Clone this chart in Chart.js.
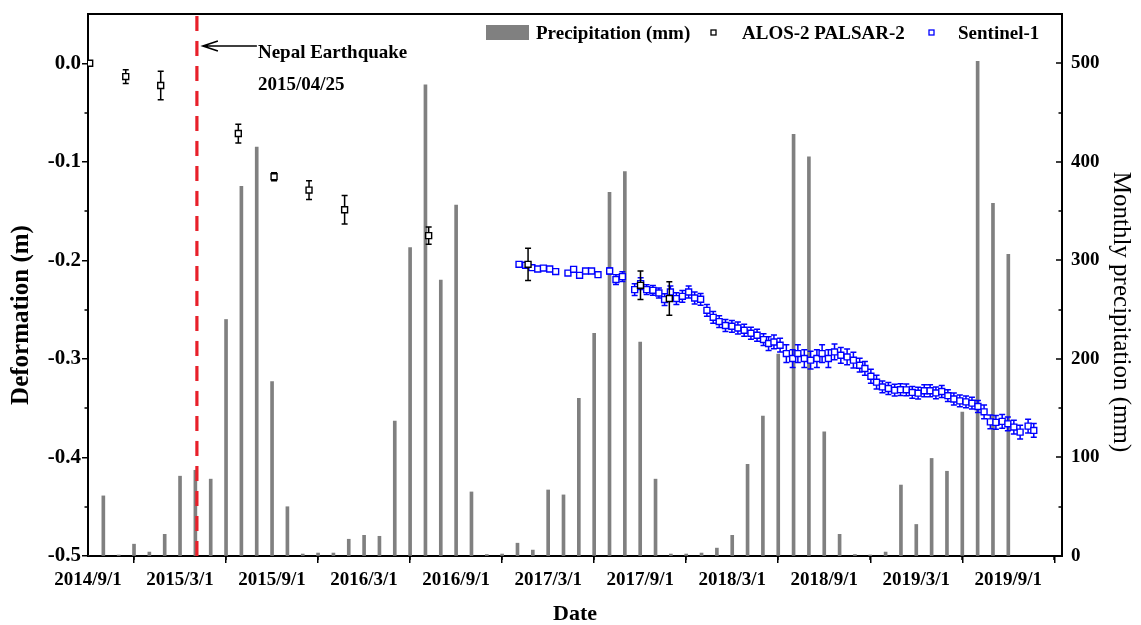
<!DOCTYPE html>
<html><head><meta charset="utf-8">
<script src="https://cdn.jsdelivr.net/npm/chart.js@4.4.1/dist/chart.umd.min.js"></script>
<style>html,body{margin:0;padding:0;background:#fff;overflow:hidden}#wrap{width:1141px;height:625px;position:relative}</style>
</head><body><div id="wrap"><canvas id="c" width="1141" height="625"></canvas></div>
<script>
// x values are months since 2014/9/1
const xTickMonths = [0, 6, 12, 18, 24, 30, 36, 42, 48, 54, 60];
const xTickLabels = ['2014/9/1','2015/3/1','2015/9/1','2016/3/1','2016/9/1','2017/3/1','2017/9/1','2018/3/1','2018/9/1','2019/3/1','2019/9/1'];
const leftTicks = [0.0, -0.1, -0.2, -0.3, -0.4, -0.5];
const rightTicks = [0, 100, 200, 300, 400, 500];

const precipMonths = [0,1,2,3,4,5,6,7,8,9,10,11,12,13,14,15,16,17,18,19,20,21,22,23,24,25,26,27,28,29,30,31,32,33,34,35,36,37,38,39,40,41,42,43,44,45,46,47,48,49,50,51,52,53,54,55,56,57,58,59,60];
const precipValues = [0,61,1,12,4,22,81,87,78,240,375,415,177,50,2,3,3,17,21,20,137,313,478,280,356,65,1.5,2,13,6,67,62,160,226,369,390,217,78,2,2,3,8,21,93,142,205,428,405,126,22,1.5,1,4,72,32,99,86,146,502,358,306];

const alosMonths = [0.11, 2.46, 4.74, 9.80, 12.13, 14.41, 16.73, 22.21, 28.69, 36.02, 37.90];
const alosDef = [0.0, -0.0135, -0.0226, -0.0713, -0.1151, -0.1287, -0.1486, -0.1749, -0.2040, -0.2253, -0.2388];
const alosErr = [0, 0.007, 0.0144, 0.0095, 0.004, 0.0095, 0.0145, 0.0088, 0.0164, 0.0144, 0.017];

const s1Months = [28.10,28.53,28.94,29.32,29.69,30.10,30.49,31.29,31.66,32.05,32.44,32.83,33.25,34.01,34.42,34.84,35.64,36.03,36.42,36.83,37.22,37.59,37.97,38.36,38.75,39.16,39.55,39.94,40.35,40.76,41.15,41.56,41.98,42.37,42.78,43.22,43.62,44.04,44.37,44.72,45.12,45.53,45.94,46.28,46.70,47.11,47.52,47.86,48.27,48.67,49.08,49.49,49.90,50.31,50.65,51.04,51.41,51.79,52.18,52.59,52.97,53.35,53.74,54.12,54.52,54.90,55.28,55.66,56.06,56.45,56.84,57.24,57.63,58.02,58.42,58.83,59.19,59.60,59.97,60.36,60.77,61.29,61.66];
const s1Def = [-0.2040,-0.2050,-0.2074,-0.2088,-0.2078,-0.2088,-0.2114,-0.2129,-0.2091,-0.2152,-0.2108,-0.2108,-0.2145,-0.2108,-0.2195,-0.2165,-0.2297,-0.2236,-0.2297,-0.2304,-0.2331,-0.2398,-0.2321,-0.2388,-0.2365,-0.2321,-0.2382,-0.2395,-0.2507,-0.2578,-0.2621,-0.2661,-0.2669,-0.2686,-0.2709,-0.2740,-0.2760,-0.2804,-0.2844,-0.2828,-0.2861,-0.2946,-0.2996,-0.2946,-0.2996,-0.3013,-0.2996,-0.2946,-0.2996,-0.2929,-0.2963,-0.2980,-0.3013,-0.3064,-0.3097,-0.3176,-0.3236,-0.3284,-0.3300,-0.3317,-0.3312,-0.3314,-0.3340,-0.3348,-0.3323,-0.3323,-0.3345,-0.3331,-0.3373,-0.3407,-0.3426,-0.3436,-0.3449,-0.3483,-0.3537,-0.3639,-0.3644,-0.3634,-0.3659,-0.3692,-0.3743,-0.3682,-0.3726];
const s1Err = [0.002,0.002,0.002,0.002,0.002,0.002,0.002,0.002,0.002,0.002,0.002,0.002,0.002,0.003,0.005,0.005,0.006,0.006,0.005,0.005,0.005,0.006,0.006,0.006,0.006,0.006,0.006,0.006,0.006,0.006,0.006,0.006,0.006,0.006,0.006,0.006,0.006,0.006,0.007,0.007,0.007,0.009,0.009,0.009,0.009,0.009,0.009,0.009,0.009,0.008,0.008,0.008,0.008,0.007,0.007,0.007,0.007,0.006,0.006,0.006,0.006,0.006,0.006,0.006,0.006,0.006,0.006,0.006,0.006,0.006,0.006,0.006,0.006,0.006,0.007,0.007,0.007,0.007,0.007,0.007,0.007,0.007,0.007];

const quakeMonth = 7.1;
const FONT = '"Liberation Serif", "Times New Roman", serif';

const decor = {
  id: 'decor',
  beforeDatasetDraw(chart, args) {
    const ds = chart.data.datasets[args.index];
    if (!ds.errorBars) return;
    const ctx = chart.ctx, xs = chart.scales.x, ys = chart.scales.y;
    ctx.save();
    ctx.strokeStyle = ds.borderColor; ctx.lineWidth = 1.5;
    ds.data.forEach((p, i) => {
      const e = ds.errorBars[i]; if (!e) return;
      const px = xs.getPixelForValue(p.x);
      const y1 = ys.getPixelForValue(p.y + e), y2 = ys.getPixelForValue(p.y - e);
      ctx.beginPath();
      ctx.moveTo(px, y1); ctx.lineTo(px, y2);
      ctx.moveTo(px - 3, y1); ctx.lineTo(px + 3, y1);
      ctx.moveTo(px - 3, y2); ctx.lineTo(px + 3, y2);
      ctx.stroke();
    });
    ctx.restore();
  },
  afterDatasetsDraw(chart) {
    const ctx = chart.ctx, xs = chart.scales.x, a = chart.chartArea;
    const qx = xs.getPixelForValue(quakeMonth);
    ctx.save();
    ctx.strokeStyle = '#e8202a'; ctx.lineWidth = 3.2; ctx.setLineDash([15, 10]);
    ctx.beginPath(); ctx.moveTo(qx, a.bottom); ctx.lineTo(qx, a.top); ctx.stroke();
    ctx.setLineDash([]);
    ctx.strokeStyle = '#000'; ctx.lineWidth = 1.6;
    const ay = 46, ax0 = qx + 6, ax1 = qx + 60;
    ctx.beginPath(); ctx.moveTo(ax1, ay); ctx.lineTo(ax0, ay);
    ctx.moveTo(ax0 + 15, ay - 5); ctx.lineTo(ax0, ay); ctx.lineTo(ax0 + 15, ay + 5); ctx.stroke();
    ctx.fillStyle = '#000'; ctx.font = 'bold 19px ' + FONT; ctx.textAlign = 'left'; ctx.textBaseline = 'alphabetic';
    ctx.fillText('Nepal Earthquake', ax1 + 1, 58);
    ctx.fillText('2015/04/25', ax1 + 1, 90);
    ctx.restore();
  },
  afterDraw(chart) {
    const ctx = chart.ctx, a = chart.chartArea, xs = chart.scales.x, ys = chart.scales.y, y2 = chart.scales.y2;
    ctx.save();
    ctx.strokeStyle = '#000'; ctx.lineWidth = 1.5;
    ctx.beginPath();
    for (let m = 3; m <= 63; m += 6) { const px = Math.round(xs.getPixelForValue(m)); ctx.moveTo(px, a.bottom); ctx.lineTo(px, a.bottom + 4); }
    for (let v = -0.45; v < 0.04; v += 0.1) { const py = Math.round(ys.getPixelForValue(v)); ctx.moveTo(a.left, py); ctx.lineTo(a.left - 3.5, py); }
    rightTicks.forEach(v => { const py = Math.round(y2.getPixelForValue(v)); ctx.moveTo(a.right, py); ctx.lineTo(a.right - 6, py); });
    for (let v = 50; v < 550; v += 100) { const py = Math.round(y2.getPixelForValue(v)); ctx.moveTo(a.right, py); ctx.lineTo(a.right - 3.5, py); }
    ctx.stroke();
    ctx.lineWidth = 2; ctx.beginPath(); ctx.moveTo(a.left - 1, a.top); ctx.lineTo(a.right + 1, a.top); ctx.stroke();
    ctx.font = 'bold 19px ' + FONT; ctx.textAlign = 'left'; ctx.textBaseline = 'alphabetic';
    ctx.fillStyle = '#808080'; ctx.fillRect(486, 25, 43, 15);
    ctx.fillStyle = '#000'; ctx.fillText('Precipitation (mm)', 536, 39);
    ctx.lineWidth = 1.3; ctx.strokeStyle = '#000'; ctx.strokeRect(711, 30, 5, 5);
    ctx.fillText('ALOS-2 PALSAR-2', 742, 39);
    ctx.strokeStyle = '#0000ff'; ctx.strokeRect(929, 30, 5, 5);
    ctx.fillText('Sentinel-1', 958, 39);
    ctx.textAlign = 'center'; ctx.textBaseline = 'middle';
    ctx.font = 'bold 22px ' + FONT;
    ctx.fillText('Date', (a.left + a.right) / 2, 614);
    ctx.font = 'bold 25px ' + FONT;
    ctx.save(); ctx.translate(22, 315); ctx.rotate(-Math.PI / 2); ctx.fillText('Deformation (m)', 0, 0); ctx.restore();
    ctx.font = '25px ' + FONT;
    ctx.save(); ctx.translate(1121, 312); ctx.rotate(Math.PI / 2); ctx.fillText('Monthly precipitation (mm)', 0, 0); ctx.restore();
    ctx.restore();
  }
};

const tickFont = { family: FONT, weight: 'bold', size: 19 };
new Chart(document.getElementById('c'), {
  type: 'scatter',
  data: {
    datasets: [
      {
        type: 'bar', label: 'Precipitation (mm)', yAxisID: 'y2', xAxisID: 'x',
        data: precipMonths.map((m, i) => ({ x: m, y: precipValues[i] })),
        backgroundColor: '#808080', borderWidth: 0, barThickness: 3, order: 3
      },
      {
        label: 'Sentinel-1', yAxisID: 'y',
        data: s1Months.map((m, i) => ({ x: m, y: s1Def[i] })),
        errorBars: s1Err,
        pointStyle: 'rect', pointRadius: 4.2, borderWidth: 1.4,
        borderColor: '#0000ff', backgroundColor: '#ffffff', order: 2
      },
      {
        label: 'ALOS-2 PALSAR-2', yAxisID: 'y',
        data: alosMonths.map((m, i) => ({ x: m, y: alosDef[i] })),
        errorBars: alosErr,
        pointStyle: 'rect', pointRadius: 4.2, borderWidth: 1.4,
        borderColor: '#000000', backgroundColor: '#ffffff', order: 1
      }
    ]
  },
  options: {
    responsive: false, animation: false, devicePixelRatio: 1,
    layout: { padding: { top: 14, left: 0, right: 0, bottom: 0 } },
    plugins: { legend: { display: false }, tooltip: { enabled: false } },
    scales: {
      x: {
        type: 'linear', position: 'bottom', min: 0, max: 63.5, offset: false,
        afterFit: s => { s.height = 69; s.paddingLeft = 0; s.paddingRight = 0; },
        afterBuildTicks: s => { s.ticks = xTickMonths.map(v => ({ value: v })); },
        ticks: { autoSkip: false, maxRotation: 0, padding: 6, color: '#000', font: tickFont,
          callback: v => xTickLabels[xTickMonths.indexOf(v)] },
        grid: { drawOnChartArea: false, drawTicks: true, tickLength: 7, color: '#000', lineWidth: 1.5 },
        border: { display: true, color: '#000', width: 2 }
      },
      y: {
        position: 'left', min: -0.5, max: 0.05,
        afterFit: s => { s.width = 88; s.paddingTop = 0; s.paddingBottom = 0; },
        afterBuildTicks: s => { s.ticks = leftTicks.map(v => ({ value: v })); },
        ticks: { padding: 1, color: '#000', font: { family: FONT, weight: 'bold', size: 21 }, callback: v => v.toFixed(1) },
        grid: { drawOnChartArea: false, drawTicks: true, tickLength: 6, color: '#000', lineWidth: 1.5 },
        border: { display: true, color: '#000', width: 2 }
      },
      y2: {
        position: 'right', min: 0, max: 550,
        afterFit: s => { s.width = 79; s.paddingTop = 0; s.paddingBottom = 0; },
        afterBuildTicks: s => { s.ticks = rightTicks.map(v => ({ value: v })); },
        ticks: { padding: 9, color: '#000', font: tickFont },
        grid: { drawOnChartArea: false, drawTicks: false, color: '#000' },
        border: { display: true, color: '#000', width: 2 }
      }
    }
  },
  plugins: [decor]
});
</script>
</body></html>
